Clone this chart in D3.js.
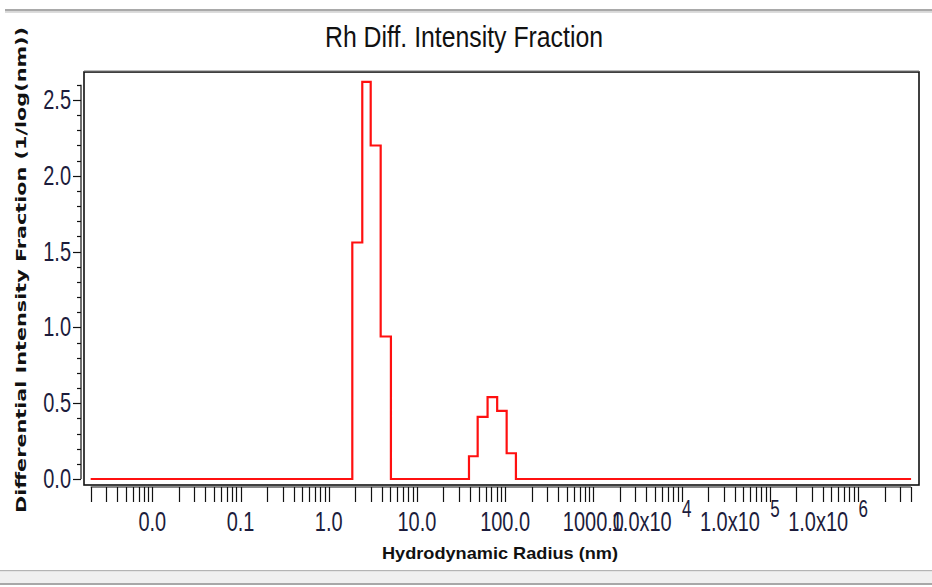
<!DOCTYPE html>
<html>
<head>
<meta charset="utf-8">
<script src="https://cdn.jsdelivr.net/npm/d3@7/dist/d3.min.js"></script>
<style>
  html, body { margin: 0; padding: 0; background: #fff; }
  svg { display: block; }
</style>
</head>
<body>
<svg id="chart" width="932" height="587"></svg>
<script>
// ---- data ----
const radiusNm = [0.002, 1.85, 2.40, 2.99, 3.88, 5.07, 38.9, 48.8, 63.2, 81.2, 104, 132.5, 4.0e6];
const intensity = [0, 1.56, 2.62, 2.20, 0.94, 0, 0.15, 0.41, 0.54, 0.45, 0.17, 0, 0];
const xTickValues = [0.01, 0.1, 1, 10, 100, 1000, 1e4, 1e5, 1e6];
const xTickLabels = ["0.0", "0.1", "1.0", "10.0", "100.0", "1000.0", "1.0x10", "1.0x10", "1.0x10"];
const xTickExponents = ["", "", "", "", "", "", "4", "5", "6"];
const yTickValues = [0, 0.5, 1.0, 1.5, 2.0, 2.5];
const yTickLabels = ["0.0", "0.5", "1.0", "1.5", "2.0", "2.5"];
const titleText = "Rh Diff. Intensity Fraction";
const xTitle = "Hydrodynamic Radius (nm)";
const yTitle = "Differential Intensity Fraction (1/log(nm))";

const svg = d3.select("#chart");

// window chrome bars
svg.append("rect").attr("x", 5).attr("y", 9).attr("width", 927).attr("height", 2.5).attr("fill", "#a9a9a9");
svg.append("rect").attr("x", 5).attr("y", 11.5).attr("width", 927).attr("height", 1.5).attr("fill", "#dcdcdc");
svg.append("rect").attr("x", 0).attr("y", 570).attr("width", 932).attr("height", 1.5).attr("fill", "#b4b4b4");
svg.append("rect").attr("x", 0).attr("y", 571.5).attr("width", 932).attr("height", 11.5).attr("fill", "#f0f0f0");
svg.append("rect").attr("x", 0).attr("y", 583).attr("width", 932).attr("height", 2).attr("fill", "#a8a8a8");

const frame = { left: 84, right: 919, top: 72, bottom: 485 };

const x = d3.scaleLog().domain([0.00168, 4.92e6]).range([frame.left, frame.right]);
const y = d3.scaleLinear().domain([0, 2.5]).range([479, 100]);

const labelFont = "Liberation Sans, Arial, sans-serif";
const labelColor = "#1c1c3c";
const squeeze = 0.74;

// title
svg.append("text")
  .attr("x", 464).attr("y", 47)
  .attr("text-anchor", "middle")
  .attr("font-family", labelFont)
  .attr("font-size", 29)
  .attr("fill", "#111")
  .attr("textLength", 278).attr("lengthAdjust", "spacingAndGlyphs")
  .text(titleText);

// frame
svg.append("rect")
  .attr("x", frame.left).attr("y", frame.top)
  .attr("width", frame.right - frame.left).attr("height", frame.bottom - frame.top)
  .attr("fill", "none").attr("stroke", "#111").attr("stroke-width", 1.6);
svg.append("line")
  .attr("x1", frame.left).attr("x2", frame.right).attr("y1", frame.top - 1).attr("y2", frame.top - 1)
  .attr("stroke", "#777").attr("stroke-width", 1.2);

// y axis line + ticks
const yAxisX = 81;
svg.append("line").attr("x1", yAxisX).attr("x2", yAxisX).attr("y1", y(2.6)).attr("y2", y(0))
  .attr("stroke", "#111").attr("stroke-width", 1.2);
const yMinor = d3.range(0, 27).map(i => i / 10);
svg.append("g").selectAll("line").data(yMinor).join("line")
  .attr("x1", d => (Math.round(d * 10) % 5 === 0) ? 73 : 77)
  .attr("x2", yAxisX)
  .attr("y1", d => Math.round(y(d)) + 0.5).attr("y2", d => Math.round(y(d)) + 0.5)
  .attr("stroke", "#111").attr("stroke-width", 1.2);

// y tick labels (tall, narrow)
svg.append("g").selectAll("text").data(yTickValues).join("text")
  .attr("transform", d => `translate(71,${y(d) + 9}) scale(${squeeze},1)`)
  .attr("text-anchor", "end")
  .attr("font-family", labelFont)
  .attr("font-size", 27)
  .attr("fill", labelColor)
  .text((d, i) => yTickLabels[i]);

// x axis line + log ticks
const xTicks = [];
for (let k = -3; k <= 6; k++) {
  for (let n = 1; n <= 9; n++) {
    const v = n * Math.pow(10, k);
    if (v >= 0.00199 && v <= 4.01e6) xTicks.push(v);
  }
}
const xAxisY = 487;
svg.append("line").attr("x1", x(0.002)).attr("x2", x(4e6)).attr("y1", xAxisY).attr("y2", xAxisY)
  .attr("stroke", "#111").attr("stroke-width", 1.2);
svg.append("g").selectAll("line").data(xTicks).join("line")
  .attr("x1", d => Math.round(x(d)) + 0.5).attr("x2", d => Math.round(x(d)) + 0.5)
  .attr("y1", xAxisY).attr("y2", 502)
  .attr("stroke", "#111").attr("stroke-width", 1.2);

// x tick labels
const xl = svg.append("g");
xTickValues.forEach((v, i) => {
  const exp = xTickExponents[i];
  if (!exp) {
    xl.append("text")
      .attr("transform", `translate(${x(v)},531) scale(${squeeze},1)`)
      .attr("text-anchor", "middle")
      .attr("font-family", labelFont)
      .attr("font-size", 27)
      .attr("fill", labelColor)
      .text(xTickLabels[i]);
  } else {
    const t = xl.append("text")
      .attr("transform", `translate(${x(v) + 10},531) scale(${squeeze},1)`)
      .attr("text-anchor", "end")
      .attr("font-family", labelFont)
      .attr("font-size", 27)
      .attr("fill", labelColor);
    t.append("tspan").text(xTickLabels[i]);
    t.append("tspan").attr("dx", 14).attr("dy", -14).attr("font-size", 23).text(exp);
  }
});

// axis titles
svg.append("text")
  .attr("x", 500).attr("y", 559)
  .attr("text-anchor", "middle")
  .attr("font-family", labelFont)
  .attr("font-weight", "bold")
  .attr("font-size", 17)
  .attr("fill", "#111")
  .attr("textLength", 236).attr("lengthAdjust", "spacingAndGlyphs")
  .text(xTitle);

svg.append("text")
  .attr("transform", "translate(26,270) rotate(-90)")
  .attr("text-anchor", "middle")
  .attr("font-family", "DejaVu Sans, Verdana, sans-serif")
  .attr("font-weight", "bold")
  .attr("font-size", 14)
  .attr("fill", "#111")
  .attr("textLength", 486).attr("lengthAdjust", "spacingAndGlyphs")
  .text(yTitle);

// data line (histogram steps)
const pts = radiusNm.map((r, i) => [r, intensity[i]]);
const line = d3.line().x(d => x(d[0])).y(d => y(d[1])).curve(d3.curveStepAfter);
svg.append("path")
  .datum(pts)
  .attr("d", line)
  .attr("fill", "none")
  .attr("stroke", "#ff1010")
  .attr("stroke-width", 2.2);
</script>
</body>
</html>
